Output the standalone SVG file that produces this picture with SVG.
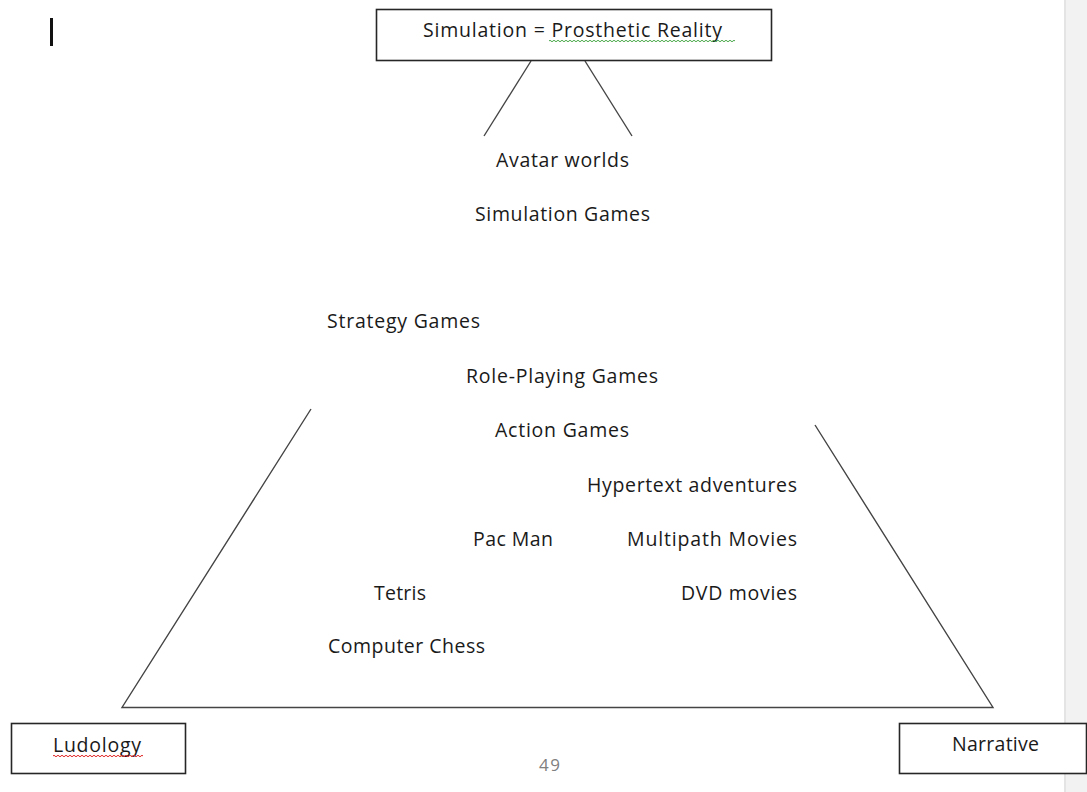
<svg xmlns="http://www.w3.org/2000/svg" width="1087" height="792" viewBox="0 0 1087 792">
<style>
.t{font-family:"Open Sans","Noto Sans","Liberation Sans",sans-serif;font-size:19.5px;font-weight:500;fill:#1a1a1a;font-variant-ligatures:none}
.box{fill:#fff;stroke:#262626;stroke-width:1.6}
.ln{stroke:#444;stroke-width:1.4;fill:none}
.sq{fill:none;stroke-width:1}
</style>
<rect x="0" y="0" width="1087" height="792" fill="#fff"/>
<g id="scrollbar">
<rect x="1064" y="0" width="23" height="792" fill="#f2f2f2"/>
<rect x="1064" y="0" width="2" height="792" fill="#e4e4e4"/>
</g>
<rect id="cursor" x="50" y="18" width="3" height="28" fill="#111"/>
<g id="connectors">
<line class="ln" x1="531" y1="61" x2="484" y2="136"/>
<line class="ln" x1="585" y1="61" x2="632" y2="136"/>
<polyline class="ln" points="311,409 122,707.5 993,707.5 815,425"/>
</g>
<g id="simulation">
<rect class="box" x="376.5" y="9.5" width="395" height="51"/>
<text class="t" x="423" y="37" textLength="299">Simulation = Prosthetic  Reality</text>
<path class="sq" stroke="#4aa84a" d="M549 41 q1 -1.5 2 0 t2 0 t2 0 t2 0 t2 0 t2 0 t2 0 t2 0 t2 0 t2 0 t2 0 t2 0 t2 0 t2 0 t2 0 t2 0 t2 0 t2 0 t2 0 t2 0 t2 0 t2 0 t2 0 t2 0 t2 0 t2 0 t2 0 t2 0 t2 0 t2 0 t2 0 t2 0 t2 0 t2 0 t2 0 t2 0 t2 0 t2 0 t2 0 t2 0 t2 0 t2 0 t2 0 t2 0 t2 0 t2 0 t2 0 t2 0 t2 0 t2 0 t2 0 t2 0 t2 0 t2 0 t2 0 t2 0 t2 0 t2 0 t2 0 t2 0 t2 0 t2 0 t2 0 t2 0 t2 0 t2 0 t2 0 t2 0 t2 0 t2 0 t2 0 t2 0 t2 0 t2 0 t2 0 t2 0 t2 0 t2 0 t2 0 t2 0 t2 0 t2 0 t2 0 t2 0 t2 0 t2 0 t2 0 t2 0 t2 0 t2 0 t2 0 t2 0 t2 0"/>
</g>
<g id="avatar-worlds"><text class="t" x="496" y="167" textLength="133">Avatar worlds</text></g>
<g id="simulation-games"><text class="t" x="475" y="221" textLength="175">Simulation Games</text></g>
<g id="strategy-games"><text class="t" x="327" y="328" textLength="153">Strategy Games</text></g>
<g id="role-playing-games"><text class="t" x="466" y="383" textLength="192">Role-Playing Games</text></g>
<g id="action-games"><text class="t" x="495" y="437" textLength="134">Action Games</text></g>
<g id="hypertext-adventures"><text class="t" x="587" y="492" textLength="210">Hypertext adventures</text></g>
<g id="pac-man"><text class="t" x="473" y="546" textLength="80">Pac Man</text></g>
<g id="multipath-movies"><text class="t" x="627" y="546" textLength="170">Multipath Movies</text></g>
<g id="tetris"><text class="t" x="374" y="600" textLength="52">Tetris</text></g>
<g id="dvd-movies"><text class="t" x="681" y="600" textLength="116">DVD movies</text></g>
<g id="computer-chess"><text class="t" x="328" y="653" textLength="157">Computer Chess</text></g>
<g id="ludology">
<rect class="box" x="11.5" y="723.5" width="174" height="50"/>
<text class="t" x="53" y="752" textLength="88">Ludology</text>
<path class="sq" stroke="#e02424" d="M53 756 q1 -1.5 2 0 t2 0 t2 0 t2 0 t2 0 t2 0 t2 0 t2 0 t2 0 t2 0 t2 0 t2 0 t2 0 t2 0 t2 0 t2 0 t2 0 t2 0 t2 0 t2 0 t2 0 t2 0 t2 0 t2 0 t2 0 t2 0 t2 0 t2 0 t2 0 t2 0 t2 0 t2 0 t2 0 t2 0 t2 0 t2 0 t2 0 t2 0 t2 0 t2 0 t2 0 t2 0 t2 0 t2 0 t2 0"/>
</g>
<g id="narrative">
<rect class="box" x="899.5" y="723.5" width="187" height="50"/>
<text class="t" x="952" y="751" textLength="87">Narrative</text>
</g>
<g id="page-number"><text class="t" x="539" y="771" textLength="21" style="fill:#808080;font-size:17px">49</text></g>
</svg>
